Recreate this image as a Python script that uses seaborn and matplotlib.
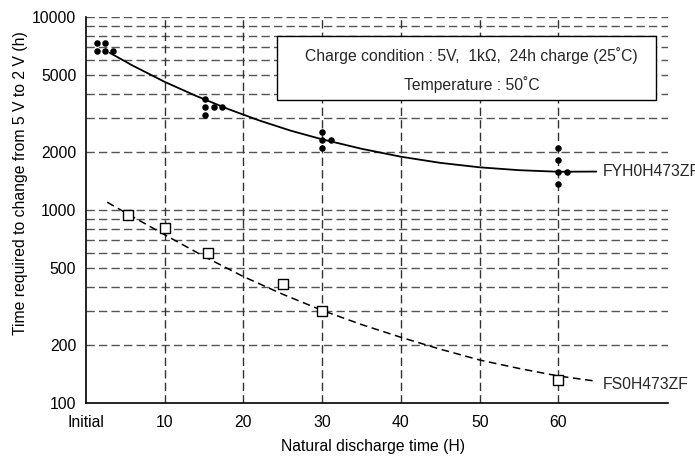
import matplotlib
matplotlib.use("Agg")
import matplotlib.pyplot as plt
import matplotlib.patches as mpatches
import pandas as pd
import seaborn as sns

sns.set_theme(style="white")
plt.rcParams["font.family"] = ["Liberation Sans", "DejaVu Sans"]

# measured points, FYH0H473ZF (filled dots)
fyh_x = [1.4, 2.45, 1.4, 2.45, 3.45,
         15.1, 15.1, 16.2, 17.3, 15.1,
         30, 30, 31.05, 30,
         60, 60, 60, 61.05, 60]
fyh_y = [7330, 7330, 6660, 6660, 6660,
         3770, 3440, 3440, 3440, 3110,
         2540, 2300, 2300, 2090,
         2090, 1820, 1570, 1570, 1370]

# fitted curve, FYH0H473ZF
fyh_fit_x = [3, 6, 10, 14, 18, 22, 26, 30, 35, 40, 45, 50, 55, 60, 64.8]
fyh_fit_y = [6546, 5598, 4624, 3908, 3350, 2917, 2582, 2328, 2080, 1892,
             1758, 1667, 1611, 1581, 1585]

# measured points, FS0H473ZF (open squares)
fs_x = [5.3, 10, 15.5, 25, 30, 60]
fs_y = [940, 805, 597, 415, 299, 132]

# fitted curve, FS0H473ZF
fs_fit_x = [2.7, 5, 10, 15, 20, 25, 30, 35, 40, 45, 50, 55, 60, 64.6]
fs_fit_y = [1099, 971, 745, 575, 452, 366, 302, 255, 219, 190, 167, 151, 138, 130]

x_ticks = [0, 10, 20, 30, 40, 50, 60]
x_tick_labels = ["Initial", "10", "20", "30", "40", "50", "60"]
y_ticks = [100, 200, 500, 1000, 2000, 5000, 10000]
y_grid = [200, 300, 400, 500, 600, 700, 800, 900, 1000,
          2000, 3000, 4000, 5000, 6000, 7000, 8000, 9000, 10000]

fyh = pd.DataFrame({"x": fyh_x, "y": fyh_y})
fyh_fit = pd.DataFrame({"x": fyh_fit_x, "y": fyh_fit_y})
fs = pd.DataFrame({"x": fs_x, "y": fs_y})
fs_fit = pd.DataFrame({"x": fs_fit_x, "y": fs_fit_y})

fig = plt.figure(figsize=(6.95, 4.57), dpi=100)
ax = fig.add_axes([0.1237, 0.1182, 0.8374, 0.8440])
ax.set_yscale("log")
ax.set_xlim(0, 73.9)
ax.set_ylim(100, 10000)

# grid
for v in y_grid:
    ax.axhline(v, color="#555555", lw=1, ls=(0, (6, 3)), zorder=1)
for v in x_ticks[1:]:
    ax.axvline(v, color="#333333", lw=1, ls=(0, (6, 3)), zorder=1)

sns.lineplot(data=fyh_fit, x="x", y="y", ax=ax, color="black", lw=1.3,
             sort=False, estimator=None, zorder=3)
sns.lineplot(data=fs_fit, x="x", y="y", ax=ax, color="black", lw=1.1,
             sort=False, estimator=None, zorder=3, dashes=False,
             linestyle=(0, (5, 3)))
sns.scatterplot(data=fyh, x="x", y="y", ax=ax, color="black", s=22,
                marker="o", edgecolor="black", linewidth=0, zorder=4)
sns.scatterplot(data=fs, x="x", y="y", ax=ax, facecolor="white", s=60,
                marker="s", edgecolor="black", linewidth=1, zorder=4)

ax.text(65.6, 1580, "FYH0H473ZF", fontsize=11.3, va="center", ha="left",
        clip_on=False)
ax.text(65.6, 125, "FS0H473ZF", fontsize=11.3, va="center", ha="left",
        clip_on=False)

# condition box
ax.add_patch(mpatches.Rectangle((0.328, 0.7856), 0.651, 0.166,
                                transform=ax.transAxes, facecolor="white",
                                edgecolor="black", lw=1, zorder=5))
ax.text(0.6627, 0.902, "Charge condition : 5V,  1k\u03a9,  24h charge (25\u02daC)",
        transform=ax.transAxes, ha="center", va="center", fontsize=11.3, zorder=6)
ax.text(0.6627, 0.8245, "Temperature : 50\u02daC",
        transform=ax.transAxes, ha="center", va="center", fontsize=11.3, zorder=6)

ax.set_xticks(x_ticks)
ax.set_xticklabels(x_tick_labels)
ax.set_yticks(y_ticks)
ax.set_yticklabels([str(v) for v in y_ticks])
ax.yaxis.set_minor_locator(matplotlib.ticker.NullLocator())
ax.tick_params(axis="both", length=0, labelsize=11.3, colors="black")
ax.tick_params(axis="x", pad=9)
ax.tick_params(axis="y", pad=7)

ax.set_xlabel("Natural discharge time (H)", fontsize=11.3, color="black")
ax.set_ylabel("Time required to change from 5 V to 2 V (h)", fontsize=11.3,
              color="black")
ax.xaxis.set_label_coords(0.4937, -0.093)
ax.yaxis.set_label_coords(-0.10, 0.57)

for side in ["top", "right"]:
    ax.spines[side].set_visible(False)
for side in ["left", "bottom"]:
    ax.spines[side].set_color("black")
    ax.spines[side].set_linewidth(1.2)

fig.savefig("out.png", dpi=100)
